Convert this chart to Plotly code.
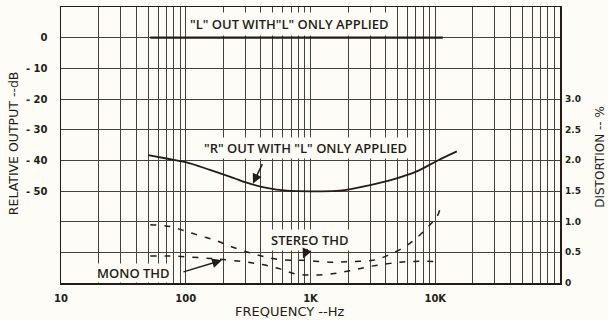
import plotly.graph_objects as go

# ---------------- data ----------------
freq_l_out = [52, 100, 1000, 10000, 11500]
db_l_out = [0, 0, 0, 0, 0]

freq_r_out = [50, 70, 100, 156, 240, 308, 445, 645, 1050, 1720, 2820, 4610, 7100, 10300, 14900]
db_r_out = [-38.3, -39.4, -40.6, -43.1, -45.7, -47.3, -49.0, -49.9, -50.1, -49.9, -48.3, -46.2, -43.6, -40.2, -37.1]

freq_stereo = [52, 75, 95, 130, 171, 226, 316, 424, 570, 871, 1432, 2074, 3165, 4170, 6300, 8600, 10300, 10900]
thd_stereo = [0.95, 0.92, 0.86, 0.77, 0.70, 0.60, 0.50, 0.43, 0.38, 0.37, 0.34, 0.35, 0.37, 0.45, 0.65, 0.90, 1.08, 1.20]

freq_mono = [52, 75, 135, 180, 283, 410, 570, 750, 1040, 1490, 2074, 3000, 4350, 6300, 10900]
thd_mono = [0.44, 0.44, 0.41, 0.39, 0.35, 0.30, 0.23, 0.15, 0.13, 0.15, 0.20, 0.27, 0.32, 0.35, 0.35]

x_tickvals = [10, 100, 1000, 10000]
x_ticktext = ["10", "100", "1K", "10K"]
db_tickvals = [0, -10, -20, -30, -40, -50]
db_ticktext = ["0", "- 10", "- 20", "- 30", "- 40", "- 50"]
pct_tickvals = [0, 0.5, 1.0, 1.5, 2.0, 2.5, 3.0]
pct_ticktext = ["0", "0.5", "1.0", "1.5", "2.0", "2.5", "3.0"]

# ---------------- style ----------------
BG = "#fdfcf6"
INK = "#241c16"
GRID = "#4a4038"
FONT = "DejaVu Sans"
LFONT = "Open Sans"

fig = go.Figure()

fig.add_trace(go.Scatter(x=freq_l_out, y=db_l_out, mode="lines",
                         line=dict(color=INK, width=2.2), showlegend=False))
fig.add_trace(go.Scatter(x=freq_r_out, y=db_r_out, mode="lines",
                         line=dict(color=INK, width=1.8, shape="spline"), showlegend=False))
fig.add_trace(go.Scatter(x=freq_stereo, y=thd_stereo, mode="lines", yaxis="y2",
                         line=dict(color=INK, width=1.5, dash="6px,8px", shape="spline"),
                         showlegend=False))
fig.add_trace(go.Scatter(x=freq_mono, y=thd_mono, mode="lines", yaxis="y2",
                         line=dict(color=INK, width=1.5, dash="6px,8px", shape="spline"),
                         showlegend=False))

fig.update_layout(
    width=608, height=320,
    margin=dict(l=61, r=48, t=7, b=37, autoexpand=False),
    paper_bgcolor=BG, plot_bgcolor=BG,
    font=dict(family=FONT, color=INK),
    hovermode=False,
    xaxis=dict(type="log", range=[1, 5], automargin=False,
               tickvals=x_tickvals, ticktext=x_ticktext, ticks="",
               tickfont=dict(size=10, color=INK, weight="bold"),
               ticklabelstandoff=5,
               showgrid=True, gridcolor=GRID, gridwidth=1,
               minor=dict(dtick="D1", showgrid=True, gridcolor=GRID, gridwidth=1, ticks=""),
               showline=True, linecolor=INK, linewidth=1.5, mirror=True,
               zeroline=False),
    yaxis=dict(range=[-80, 10], automargin=False,
               tickvals=db_tickvals, ticktext=db_ticktext,
               tickfont=dict(size=10, color=INK, weight="bold"), ticks="",
               ticklabelstandoff=10,
               showgrid=True, gridcolor=GRID, gridwidth=1,
               minor=dict(dtick=10, tick0=0, showgrid=True, gridcolor=GRID, gridwidth=1),
               showline=True, linecolor=INK, linewidth=1.5, mirror=True,
               zeroline=False),
    yaxis2=dict(range=[0, 4.5], overlaying="y", side="right", automargin=False,
                tickvals=pct_tickvals, ticktext=pct_ticktext, ticks="",
                tickfont=dict(size=9, color=INK, weight="bold"),
                ticklabelstandoff=4,
                showgrid=False, zeroline=False, showline=False),
)

lab_font = dict(family=LFONT, size=13, color=INK, weight=600)
thd_font = dict(family=LFONT, size=13, color=INK, weight=600)
C = dict(xanchor="center", yanchor="middle", showarrow=False)
annotations = [
    dict(text='"L" OUT WITH"L" ONLY APPLIED', xref="paper", yref="paper", x=0.457, y=0.937,
         font=lab_font, bgcolor=BG, borderpad=2, **C),
    dict(text='"R" OUT WITH "L" ONLY APPLIED', xref="paper", yref="paper", x=0.489, y=0.489,
         font=lab_font, bgcolor=BG, borderpad=1, **C),
    dict(text="STEREO THD", xref="paper", yref="paper", x=0.499, y=0.156,
         font=thd_font, bgcolor=BG, borderpad=1, **C),
    dict(text="MONO THD", xref="paper", yref="paper", x=0.146, y=0.036,
         font=thd_font, bgcolor=BG, borderpad=0, **C),
    # axis titles
    dict(text="RELATIVE OUTPUT --dB", xref="paper", yref="paper", x=-0.096, y=0.507,
         textangle=-90, font=dict(family=FONT, size=12.5, color=INK), **C),
    dict(text="DISTORTION -- %", xref="paper", yref="paper", x=1.080, y=0.457,
         textangle=-90, font=dict(family=FONT, size=12, color=INK), **C),
    dict(text="FREQUENCY --Hz", xref="paper", yref="paper", x=0.457, y=-0.105,
         font=dict(family=FONT, size=13, color=INK), **C),
    # arrows
    dict(text="", x=2.539, y=-47.6, xref="x", yref="y", showarrow=True,
         ax=10, ay=-21, arrowhead=2, arrowsize=1.3, arrowwidth=1.5, arrowcolor=INK),
    dict(text="", x=2.29, y=0.37, xref="x", yref="y2", showarrow=True,
         ax=-40, ay=12, arrowhead=2, arrowsize=1.3, arrowwidth=1.5, arrowcolor=INK),
    dict(text="", x=2.94, y=0.40, xref="x", yref="y2", showarrow=True,
         ax=5, ay=-11, arrowhead=2, arrowsize=1.3, arrowwidth=1.5, arrowcolor=INK),
]
fig.update_layout(annotations=annotations)

fig.write_html("out.html", config={"displayModeBar": False, "staticPlot": True},
               post_script="document.body.style.margin='0';document.body.style.overflow='hidden';"
                           "document.body.style.background='" + BG + "';")
